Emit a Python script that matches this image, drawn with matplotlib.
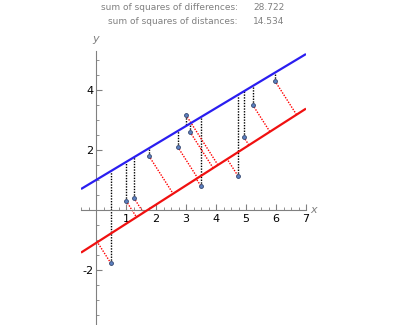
import numpy as np
import matplotlib
matplotlib.use("Agg")
import matplotlib.pyplot as plt
from matplotlib.ticker import MultipleLocator

plt.rcParams['axes.unicode_minus'] = False

# data points
xs = [0.5, 1.0, 1.26, 1.76, 2.72, 2.99, 3.13, 3.49, 4.73, 4.92, 5.22, 5.96]
ys = [-1.78, 0.31, 0.41, 1.81, 2.11, 3.18, 2.61, 0.81, 1.14, 2.44, 3.51, 4.31]

# lines: y = a + b*x
blue_a, blue_b = 1.0, 0.6
red_a, red_b = -1.1, 0.64

ss_diff = "28.722"
ss_dist = "14.534"

xlim = (-0.5, 7.0)
ylim = (-3.8, 5.3)

fig = plt.figure(figsize=(4, 3.25), dpi=100)
ax = fig.add_axes([0.2025, 0.003, 0.5625, 0.84])

xs = np.array(xs)
ys = np.array(ys)

# vertical differences to blue line
for x, y in zip(xs, ys):
    ax.plot([x, x], [y, blue_a + blue_b * x], color='black', lw=1,
            ls=(0, (1, 1)), zorder=2)

# perpendicular distances to red line
for x, y in zip(xs, ys):
    t = (x + red_b * (y - red_a)) / (1 + red_b ** 2)
    ax.plot([x, t], [y, red_a + red_b * t], color='red', lw=1,
            ls=(0, (1, 1)), zorder=2)

lx = np.array(xlim)
ax.plot(lx, blue_a + blue_b * lx, color='#2a1ef0', lw=1.6, zorder=3,
        solid_capstyle='butt')
ax.plot(lx, red_a + red_b * lx, color='#f01010', lw=1.6, zorder=3,
        solid_capstyle='butt')

ax.plot(xs, ys, 'o', ms=2.8, color='#5b7fc0', mec='#34476e', mew=0.6, zorder=4)

ax.set_xlim(*xlim)
ax.set_ylim(*ylim)

for s in ['top', 'right']:
    ax.spines[s].set_visible(False)
ax.spines['left'].set_position(('data', 0))
ax.spines['bottom'].set_position(('data', 0))
for s in ['left', 'bottom']:
    ax.spines[s].set_color('#808080')
    ax.spines[s].set_linewidth(0.8)

ax.set_xticks([1, 2, 3, 4, 5, 6, 7])
ax.set_yticks([-2, 2, 4])
ax.xaxis.set_minor_locator(MultipleLocator(0.25))
ax.yaxis.set_minor_locator(MultipleLocator(0.5))
ax.tick_params(which='major', direction='in', length=4, width=0.8,
               color='#808080', labelsize=8, pad=2)
ax.tick_params(which='minor', direction='in', length=2, width=0.6,
               color='#808080')
ax.tick_params(axis='x', pad=3)

ax.text(7.15, 0, 'x', style='italic', color='#808080', fontsize=8,
        ha='left', va='center', clip_on=False)
ax.text(0, 5.55, 'y', style='italic', color='#808080', fontsize=8,
        ha='center', va='bottom', clip_on=False)

fig.text(238 / 400, 1 - 7 / 325, 'sum of squares of differences:', fontsize=6.5,
         color='#808080', ha='right', va='center')
fig.text(253 / 400, 1 - 7 / 325, ss_diff, fontsize=6.5,
         color='#808080', ha='left', va='center')
fig.text(238 / 400, 1 - 22 / 325, 'sum of squares of distances:', fontsize=6.5,
         color='#808080', ha='right', va='center')
fig.text(253 / 400, 1 - 22 / 325, ss_dist, fontsize=6.5,
         color='#808080', ha='left', va='center')

fig.savefig('out.png', dpi=100)
